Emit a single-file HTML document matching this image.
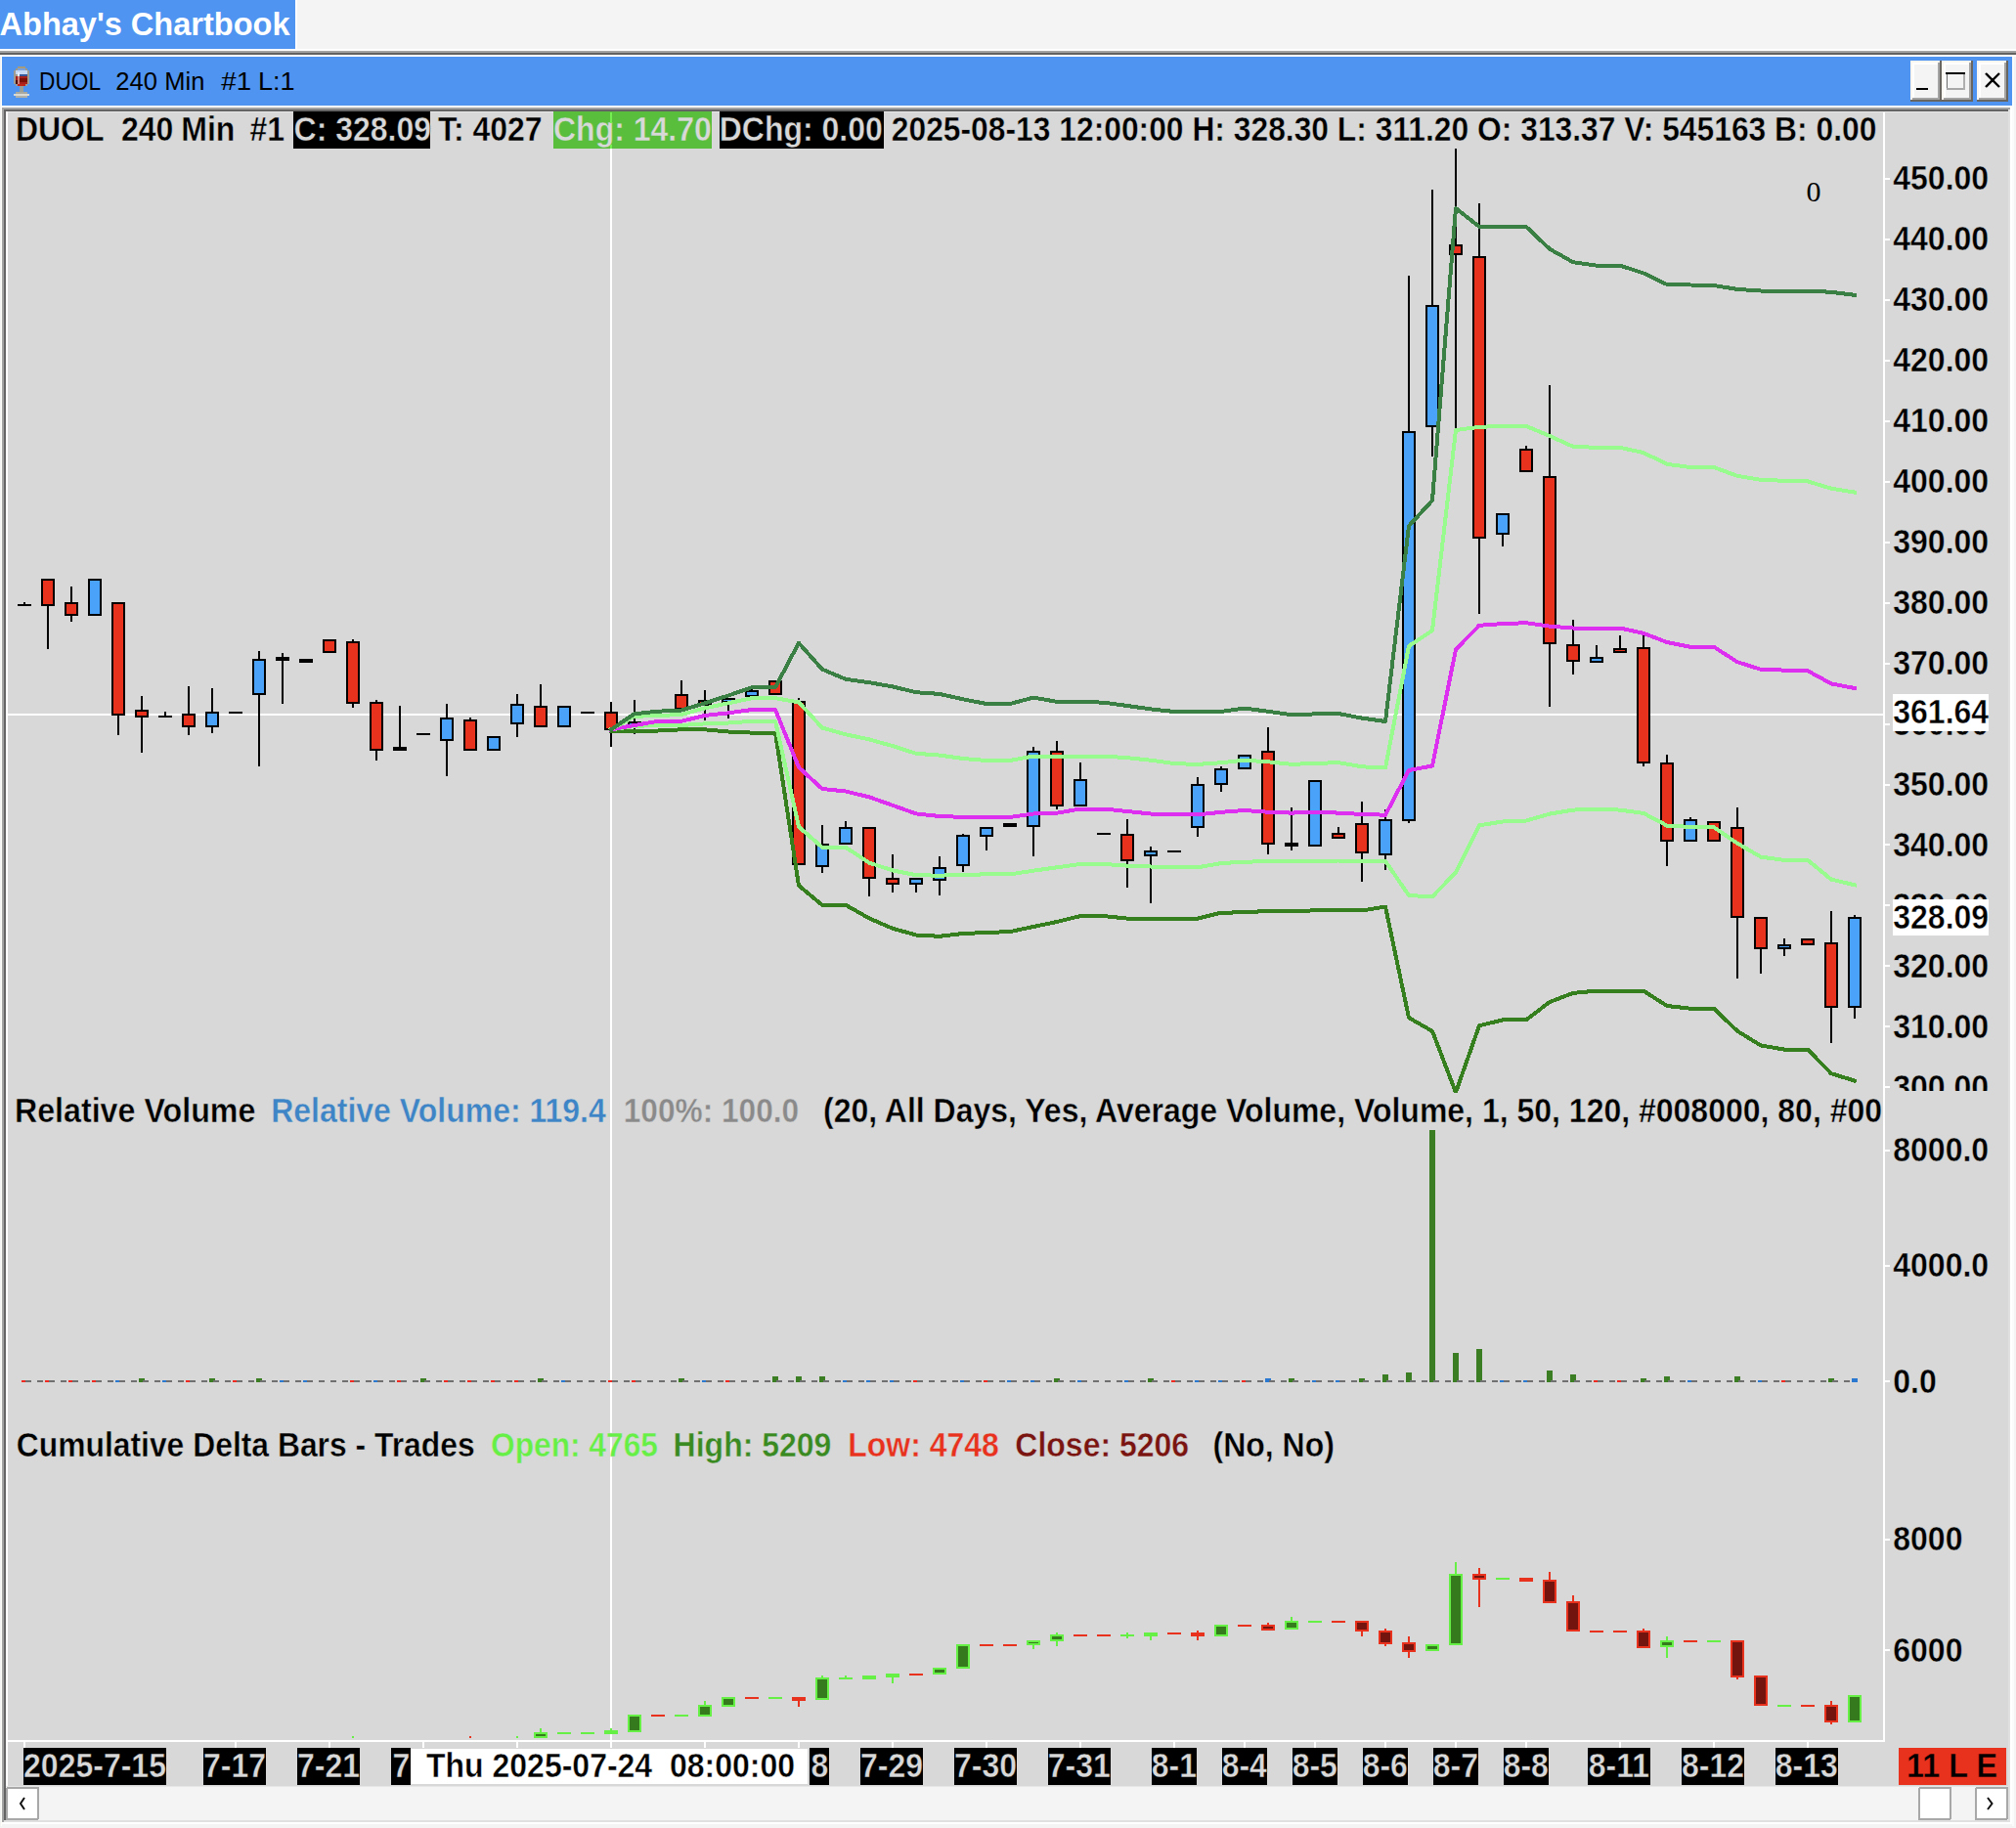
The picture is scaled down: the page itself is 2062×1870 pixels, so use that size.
<!DOCTYPE html><html><head><meta charset="utf-8"><style>html,body{margin:0;padding:0;background:#f4f4f4;overflow:hidden}body{width:2062px;height:1870px;position:relative}</style></head><body><svg width="2062" height="1870" viewBox="0 0 2062 1870" font-family="'Liberation Sans', sans-serif" style="position:absolute;left:0;top:0" shape-rendering="crispEdges">
<defs><clipPath id="cpMain"><rect x="8" y="115" width="1918" height="1003"/></clipPath><clipPath id="cpVol"><rect x="8" y="1116" width="1918" height="334"/></clipPath><clipPath id="cpCD"><rect x="8" y="1450" width="1918" height="330"/></clipPath><clipPath id="cpHdr"><rect x="8" y="114" width="1917" height="1666"/></clipPath><clipPath id="cpAxis"><rect x="1928" y="115" width="126" height="1001"/></clipPath></defs>
<rect x="0" y="0" width="2062" height="1870" fill="#f4f4f4"/>
<rect x="0" y="0" width="302" height="50" fill="#4e94f0"/>
<rect x="302" y="0" width="2" height="50" fill="#ffffff"/>
<text x="-0.5" y="35.6" font-size="32" font-weight="bold" fill="#fff" textLength="297" lengthAdjust="spacingAndGlyphs" transform="translate(0 35.6) scale(1 1.054) translate(0 -35.6)">Abhay&#39;s Chartbook</text>
<rect x="0" y="50" width="2062" height="2" fill="#ffffff"/>
<rect x="0" y="52" width="2062" height="2" fill="#a3a3a3"/>
<rect x="0" y="54" width="2062" height="2" fill="#616161"/>
<rect x="0" y="56" width="2062" height="2" fill="#ffffff"/>
<rect x="1" y="58" width="1" height="1810" fill="#fffdf8"/>
<rect x="2058" y="58" width="2" height="1810" fill="#fbfbfb"/>
<rect x="2" y="58" width="2056" height="50" fill="#4e94f0"/>
<rect x="2" y="108" width="2056" height="2" fill="#fffdf8"/>
<text x="40.1" y="92" font-size="25" font-weight="normal" fill="#000" textLength="63.0" lengthAdjust="spacingAndGlyphs" transform="translate(0 92) scale(1 1.058) translate(0 -92)">DUOL</text>
<text x="118.3" y="92" font-size="25" font-weight="normal" fill="#000" textLength="42.7" lengthAdjust="spacingAndGlyphs" transform="translate(0 92) scale(1 1.058) translate(0 -92)">240</text>
<text x="168.3" y="92" font-size="25" font-weight="normal" fill="#000" textLength="41.1" lengthAdjust="spacingAndGlyphs" transform="translate(0 92) scale(1 1.058) translate(0 -92)">Min</text>
<text x="226.3" y="92" font-size="25" font-weight="normal" fill="#000" textLength="30.8" lengthAdjust="spacingAndGlyphs" transform="translate(0 92) scale(1 1.058) translate(0 -92)">#1</text>
<text x="263.9" y="92" font-size="25" font-weight="normal" fill="#000" textLength="37.6" lengthAdjust="spacingAndGlyphs" transform="translate(0 92) scale(1 1.058) translate(0 -92)">L:1</text>
<g><rect x="18" y="68" width="8" height="2" fill="#a49a80"/><rect x="16" y="70" width="12" height="2" fill="#a49a80"/><rect x="14" y="72" width="16" height="14" fill="#a09c90"/><rect x="16" y="86" width="12" height="2" fill="#a09c90"/><rect x="18" y="70" width="8" height="2" fill="#7aa2e0"/><rect x="16" y="72" width="12" height="4" fill="#c4d8f4"/><rect x="20" y="76" width="8" height="2" fill="#34589a"/><rect x="18" y="74" width="2" height="4" fill="#e4eefc"/><rect x="16" y="78" width="12" height="8" fill="#a8201a"/><rect x="20" y="80" width="8" height="4" fill="#7a1008"/><rect x="16" y="82" width="2" height="4" fill="#4a0a08"/><rect x="18" y="78" width="2" height="8" fill="#d08078"/><rect x="18" y="86" width="8" height="2" fill="#c02418"/><rect x="20" y="88" width="4" height="6" fill="#9a9e98"/><rect x="16" y="94" width="12" height="2" fill="#a8a8a0"/><rect x="14" y="96" width="16" height="2" fill="#d8d8d4"/><rect x="16" y="98" width="12" height="2" fill="#b0b0a8"/></g>
<rect x="1954" y="62" width="32" height="42" fill="#686460"/>
<rect x="1954" y="62" width="30" height="40" fill="#fbf6f0"/>
<rect x="1956" y="64" width="28" height="38" fill="#a4a4a4"/>
<rect x="1956" y="64" width="26" height="36" fill="#ffffff"/>
<rect x="1958" y="66" width="24" height="34" fill="#f4f4f4"/>
<rect x="1986" y="62" width="32" height="42" fill="#686460"/>
<rect x="1986" y="62" width="30" height="40" fill="#fbf6f0"/>
<rect x="1988" y="64" width="28" height="38" fill="#a4a4a4"/>
<rect x="1988" y="64" width="26" height="36" fill="#ffffff"/>
<rect x="1990" y="66" width="24" height="34" fill="#f4f4f4"/>
<rect x="2022" y="62" width="32" height="42" fill="#686460"/>
<rect x="2022" y="62" width="30" height="40" fill="#fbf6f0"/>
<rect x="2024" y="64" width="28" height="38" fill="#a4a4a4"/>
<rect x="2024" y="64" width="26" height="36" fill="#ffffff"/>
<rect x="2026" y="66" width="24" height="34" fill="#f4f4f4"/>
<rect x="1960" y="90" width="12" height="2" fill="#000"/>
<rect x="1990" y="74" width="20" height="2" fill="#000"/>
<rect x="1991" y="76" width="1" height="16" fill="#707070"/>
<rect x="1991" y="90" width="19" height="2" fill="#a8a8a8"/>
<rect x="2008" y="76" width="2" height="16" fill="#b0b0b0"/>
<path d="M2031 75 L2045 89 M2045 75 L2031 89" stroke="#000" stroke-width="2.4" shape-rendering="auto"/>
<rect x="2036" y="80" width="4" height="4" fill="#000"/>
<rect x="2" y="110" width="2054" height="2" fill="#a3a3a3"/>
<rect x="2" y="110" width="2" height="1754" fill="#a3a3a3"/>
<rect x="2056" y="110" width="2" height="1756" fill="#ffffff"/>
<rect x="2" y="1864" width="2056" height="2" fill="#ffffff"/>
<rect x="4" y="112" width="2050" height="2" fill="#646464"/>
<rect x="4" y="112" width="2" height="1750" fill="#646464"/>
<rect x="2054" y="112" width="2" height="1752" fill="#e0e0e0"/>
<rect x="4" y="1862" width="2052" height="2" fill="#e0e0e0"/>
<rect x="6" y="114" width="2048" height="1748" fill="#d8d8d8"/>
<rect x="6" y="114" width="2" height="1714" fill="#ffffff"/>
<rect x="8" y="114" width="2046" height="1" fill="#e6e6e6"/>
<rect x="6" y="1827" width="2048" height="1" fill="#e6e6e6"/>
<rect x="6" y="1828" width="2048" height="34" fill="#f4f4f4"/>
<rect x="6" y="1828" width="34" height="34" fill="#a8a8a8" rx="2"/>
<rect x="8" y="1830" width="30" height="30" fill="#ffffff"/>
<rect x="1962" y="1828" width="34" height="34" fill="#a8a8a8" rx="2"/>
<rect x="1964" y="1830" width="30" height="30" fill="#ffffff"/>
<rect x="2020" y="1828" width="34" height="34" fill="#a8a8a8" rx="2"/>
<rect x="2022" y="1830" width="30" height="30" fill="#ffffff"/>
<path d="M25 1839 L21 1845 L25 1851" fill="none" stroke="#111" stroke-width="2" shape-rendering="auto"/>
<path d="M2033 1839 L2037.5 1845 L2033 1851" fill="none" stroke="#111" stroke-width="2" shape-rendering="auto"/>
<rect x="8" y="730" width="1918" height="2" fill="#ffffff"/>
<rect x="624" y="114" width="2" height="1666" fill="#ffffff"/>
<g clip-path="url(#cpMain)">
<rect x="24" y="616" width="2" height="3" fill="#000"/>
<rect x="18" y="618" width="14" height="2" fill="#000"/>
<rect x="48" y="592" width="2" height="72" fill="#000"/>
<rect x="42" y="592" width="14" height="28" fill="#000"/>
<rect x="44" y="594" width="10" height="24" fill="#e8321e"/>
<rect x="72" y="600" width="2" height="36" fill="#000"/>
<rect x="66" y="616" width="14" height="14" fill="#000"/>
<rect x="68" y="618" width="10" height="10" fill="#e8321e"/>
<rect x="96" y="592" width="2" height="38" fill="#000"/>
<rect x="90" y="592" width="14" height="38" fill="#000"/>
<rect x="92" y="594" width="10" height="34" fill="#4aa3f8"/>
<rect x="120" y="616" width="2" height="136" fill="#000"/>
<rect x="114" y="616" width="14" height="116" fill="#000"/>
<rect x="116" y="618" width="10" height="112" fill="#e8321e"/>
<rect x="144" y="712" width="2" height="58" fill="#000"/>
<rect x="138" y="726" width="14" height="8" fill="#000"/>
<rect x="140" y="728" width="10" height="4" fill="#e8321e"/>
<rect x="168" y="728" width="2" height="5" fill="#000"/>
<rect x="162" y="732" width="14" height="2" fill="#000"/>
<rect x="192" y="702" width="2" height="50" fill="#000"/>
<rect x="186" y="730" width="14" height="14" fill="#000"/>
<rect x="188" y="732" width="10" height="10" fill="#e8321e"/>
<rect x="216" y="704" width="2" height="46" fill="#000"/>
<rect x="210" y="728" width="14" height="16" fill="#000"/>
<rect x="212" y="730" width="10" height="12" fill="#4aa3f8"/>
<rect x="234" y="728" width="14" height="2" fill="#000"/>
<rect x="264" y="666" width="2" height="118" fill="#000"/>
<rect x="258" y="674" width="14" height="37" fill="#000"/>
<rect x="260" y="676" width="10" height="33" fill="#4aa3f8"/>
<rect x="288" y="668" width="2" height="52" fill="#000"/>
<rect x="282" y="672" width="14" height="4" fill="#000"/>
<rect x="312" y="674" width="2" height="4" fill="#000"/>
<rect x="306" y="674" width="14" height="4" fill="#000"/>
<rect x="336" y="654" width="2" height="14" fill="#000"/>
<rect x="330" y="654" width="14" height="14" fill="#000"/>
<rect x="332" y="656" width="10" height="10" fill="#e8321e"/>
<rect x="360" y="654" width="2" height="70" fill="#000"/>
<rect x="354" y="656" width="14" height="64" fill="#000"/>
<rect x="356" y="658" width="10" height="60" fill="#e8321e"/>
<rect x="384" y="716" width="2" height="62" fill="#000"/>
<rect x="378" y="718" width="14" height="50" fill="#000"/>
<rect x="380" y="720" width="10" height="46" fill="#e8321e"/>
<rect x="408" y="722" width="2" height="46" fill="#000"/>
<rect x="402" y="764" width="14" height="4" fill="#000"/>
<rect x="426" y="750" width="14" height="2" fill="#000"/>
<rect x="456" y="720" width="2" height="74" fill="#000"/>
<rect x="450" y="734" width="14" height="24" fill="#000"/>
<rect x="452" y="736" width="10" height="20" fill="#4aa3f8"/>
<rect x="480" y="734" width="2" height="34" fill="#000"/>
<rect x="474" y="736" width="14" height="32" fill="#000"/>
<rect x="476" y="738" width="10" height="28" fill="#e8321e"/>
<rect x="504" y="753" width="2" height="15" fill="#000"/>
<rect x="498" y="753" width="14" height="15" fill="#000"/>
<rect x="500" y="755" width="10" height="11" fill="#4aa3f8"/>
<rect x="528" y="710" width="2" height="44" fill="#000"/>
<rect x="522" y="720" width="14" height="21" fill="#000"/>
<rect x="524" y="722" width="10" height="17" fill="#4aa3f8"/>
<rect x="552" y="700" width="2" height="44" fill="#000"/>
<rect x="546" y="722" width="14" height="22" fill="#000"/>
<rect x="548" y="724" width="10" height="18" fill="#e8321e"/>
<rect x="576" y="722" width="2" height="22" fill="#000"/>
<rect x="570" y="722" width="14" height="22" fill="#000"/>
<rect x="572" y="724" width="10" height="18" fill="#4aa3f8"/>
<rect x="594" y="728" width="14" height="2" fill="#000"/>
<rect x="624" y="718" width="2" height="46" fill="#000"/>
<rect x="618" y="728" width="14" height="19" fill="#000"/>
<rect x="620" y="730" width="10" height="15" fill="#e8321e"/>
<rect x="648" y="716" width="2" height="35" fill="#000"/>
<rect x="642" y="738" width="14" height="6" fill="#000"/>
<rect x="644" y="740" width="10" height="2" fill="#4aa3f8"/>
<rect x="672" y="738" width="2" height="4" fill="#000"/>
<rect x="666" y="739" width="14" height="2" fill="#000"/>
<rect x="696" y="696" width="2" height="30" fill="#000"/>
<rect x="690" y="710" width="14" height="16" fill="#000"/>
<rect x="692" y="712" width="10" height="12" fill="#e8321e"/>
<rect x="720" y="706" width="2" height="31" fill="#000"/>
<rect x="714" y="716" width="14" height="6" fill="#000"/>
<rect x="716" y="718" width="10" height="2" fill="#e8321e"/>
<rect x="744" y="714" width="2" height="21" fill="#000"/>
<rect x="738" y="714" width="14" height="5" fill="#000"/>
<rect x="740" y="716" width="10" height="1" fill="#4aa3f8"/>
<rect x="768" y="704" width="2" height="9" fill="#000"/>
<rect x="762" y="706" width="14" height="7" fill="#000"/>
<rect x="764" y="708" width="10" height="3" fill="#4aa3f8"/>
<rect x="792" y="696" width="2" height="15" fill="#000"/>
<rect x="786" y="696" width="14" height="15" fill="#000"/>
<rect x="788" y="698" width="10" height="11" fill="#e8321e"/>
<rect x="816" y="714" width="2" height="171" fill="#000"/>
<rect x="810" y="717" width="14" height="168" fill="#000"/>
<rect x="812" y="719" width="10" height="164" fill="#e8321e"/>
<rect x="840" y="844" width="2" height="49" fill="#000"/>
<rect x="834" y="863" width="14" height="24" fill="#000"/>
<rect x="836" y="865" width="10" height="20" fill="#4aa3f8"/>
<rect x="864" y="840" width="2" height="24" fill="#000"/>
<rect x="858" y="846" width="14" height="18" fill="#000"/>
<rect x="860" y="848" width="10" height="14" fill="#4aa3f8"/>
<rect x="888" y="846" width="2" height="71" fill="#000"/>
<rect x="882" y="846" width="14" height="53" fill="#000"/>
<rect x="884" y="848" width="10" height="49" fill="#e8321e"/>
<rect x="912" y="874" width="2" height="39" fill="#000"/>
<rect x="906" y="898" width="14" height="7" fill="#000"/>
<rect x="908" y="900" width="10" height="3" fill="#e8321e"/>
<rect x="936" y="898" width="2" height="15" fill="#000"/>
<rect x="930" y="898" width="14" height="7" fill="#000"/>
<rect x="932" y="900" width="10" height="3" fill="#4aa3f8"/>
<rect x="960" y="876" width="2" height="40" fill="#000"/>
<rect x="954" y="887" width="14" height="14" fill="#000"/>
<rect x="956" y="889" width="10" height="10" fill="#4aa3f8"/>
<rect x="984" y="853" width="2" height="39" fill="#000"/>
<rect x="978" y="854" width="14" height="32" fill="#000"/>
<rect x="980" y="856" width="10" height="28" fill="#4aa3f8"/>
<rect x="1008" y="846" width="2" height="24" fill="#000"/>
<rect x="1002" y="846" width="14" height="10" fill="#000"/>
<rect x="1004" y="848" width="10" height="6" fill="#4aa3f8"/>
<rect x="1032" y="842" width="2" height="4" fill="#000"/>
<rect x="1026" y="842" width="14" height="4" fill="#000"/>
<rect x="1056" y="764" width="2" height="112" fill="#000"/>
<rect x="1050" y="768" width="14" height="78" fill="#000"/>
<rect x="1052" y="770" width="10" height="74" fill="#4aa3f8"/>
<rect x="1080" y="758" width="2" height="70" fill="#000"/>
<rect x="1074" y="768" width="14" height="57" fill="#000"/>
<rect x="1076" y="770" width="10" height="53" fill="#e8321e"/>
<rect x="1104" y="780" width="2" height="45" fill="#000"/>
<rect x="1098" y="797" width="14" height="28" fill="#000"/>
<rect x="1100" y="799" width="10" height="24" fill="#4aa3f8"/>
<rect x="1122" y="852" width="14" height="2" fill="#000"/>
<rect x="1152" y="838" width="2" height="70" fill="#000"/>
<rect x="1146" y="853" width="14" height="28" fill="#000"/>
<rect x="1148" y="855" width="10" height="24" fill="#e8321e"/>
<rect x="1176" y="866" width="2" height="58" fill="#000"/>
<rect x="1170" y="870" width="14" height="6" fill="#000"/>
<rect x="1172" y="872" width="10" height="2" fill="#4aa3f8"/>
<rect x="1194" y="870" width="14" height="2" fill="#000"/>
<rect x="1224" y="795" width="2" height="61" fill="#000"/>
<rect x="1218" y="802" width="14" height="45" fill="#000"/>
<rect x="1220" y="804" width="10" height="41" fill="#4aa3f8"/>
<rect x="1248" y="784" width="2" height="26" fill="#000"/>
<rect x="1242" y="786" width="14" height="17" fill="#000"/>
<rect x="1244" y="788" width="10" height="13" fill="#4aa3f8"/>
<rect x="1272" y="772" width="2" height="15" fill="#000"/>
<rect x="1266" y="772" width="14" height="15" fill="#000"/>
<rect x="1268" y="774" width="10" height="11" fill="#4aa3f8"/>
<rect x="1296" y="744" width="2" height="130" fill="#000"/>
<rect x="1290" y="768" width="14" height="96" fill="#000"/>
<rect x="1292" y="770" width="10" height="92" fill="#e8321e"/>
<rect x="1320" y="826" width="2" height="44" fill="#000"/>
<rect x="1314" y="862" width="14" height="4" fill="#000"/>
<rect x="1344" y="798" width="2" height="68" fill="#000"/>
<rect x="1338" y="798" width="14" height="68" fill="#000"/>
<rect x="1340" y="800" width="10" height="64" fill="#4aa3f8"/>
<rect x="1368" y="846" width="2" height="12" fill="#000"/>
<rect x="1362" y="852" width="14" height="6" fill="#000"/>
<rect x="1364" y="854" width="10" height="2" fill="#e8321e"/>
<rect x="1392" y="820" width="2" height="82" fill="#000"/>
<rect x="1386" y="842" width="14" height="31" fill="#000"/>
<rect x="1388" y="844" width="10" height="27" fill="#e8321e"/>
<rect x="1416" y="828" width="2" height="62" fill="#000"/>
<rect x="1410" y="838" width="14" height="37" fill="#000"/>
<rect x="1412" y="840" width="10" height="33" fill="#4aa3f8"/>
<rect x="1440" y="282" width="2" height="560" fill="#000"/>
<rect x="1434" y="441" width="14" height="399" fill="#000"/>
<rect x="1436" y="443" width="10" height="395" fill="#4aa3f8"/>
<rect x="1464" y="194" width="2" height="273" fill="#000"/>
<rect x="1458" y="312" width="14" height="125" fill="#000"/>
<rect x="1460" y="314" width="10" height="121" fill="#4aa3f8"/>
<rect x="1488" y="152" width="2" height="286" fill="#000"/>
<rect x="1482" y="250" width="14" height="11" fill="#000"/>
<rect x="1484" y="252" width="10" height="7" fill="#e8321e"/>
<rect x="1512" y="208" width="2" height="420" fill="#000"/>
<rect x="1506" y="262" width="14" height="289" fill="#000"/>
<rect x="1508" y="264" width="10" height="285" fill="#e8321e"/>
<rect x="1536" y="525" width="2" height="34" fill="#000"/>
<rect x="1530" y="525" width="14" height="22" fill="#000"/>
<rect x="1532" y="527" width="10" height="18" fill="#4aa3f8"/>
<rect x="1560" y="456" width="2" height="27" fill="#000"/>
<rect x="1554" y="459" width="14" height="24" fill="#000"/>
<rect x="1556" y="461" width="10" height="20" fill="#e8321e"/>
<rect x="1584" y="394" width="2" height="329" fill="#000"/>
<rect x="1578" y="487" width="14" height="172" fill="#000"/>
<rect x="1580" y="489" width="10" height="168" fill="#e8321e"/>
<rect x="1608" y="634" width="2" height="56" fill="#000"/>
<rect x="1602" y="659" width="14" height="18" fill="#000"/>
<rect x="1604" y="661" width="10" height="14" fill="#e8321e"/>
<rect x="1632" y="660" width="2" height="18" fill="#000"/>
<rect x="1626" y="672" width="14" height="6" fill="#000"/>
<rect x="1628" y="674" width="10" height="2" fill="#4aa3f8"/>
<rect x="1656" y="650" width="2" height="18" fill="#000"/>
<rect x="1650" y="663" width="14" height="5" fill="#000"/>
<rect x="1652" y="665" width="10" height="1" fill="#e8321e"/>
<rect x="1680" y="650" width="2" height="134" fill="#000"/>
<rect x="1674" y="662" width="14" height="119" fill="#000"/>
<rect x="1676" y="664" width="10" height="115" fill="#e8321e"/>
<rect x="1704" y="772" width="2" height="114" fill="#000"/>
<rect x="1698" y="780" width="14" height="81" fill="#000"/>
<rect x="1700" y="782" width="10" height="77" fill="#e8321e"/>
<rect x="1728" y="836" width="2" height="25" fill="#000"/>
<rect x="1722" y="838" width="14" height="23" fill="#000"/>
<rect x="1724" y="840" width="10" height="19" fill="#4aa3f8"/>
<rect x="1752" y="840" width="2" height="21" fill="#000"/>
<rect x="1746" y="840" width="14" height="21" fill="#000"/>
<rect x="1748" y="842" width="10" height="17" fill="#e8321e"/>
<rect x="1776" y="826" width="2" height="175" fill="#000"/>
<rect x="1770" y="846" width="14" height="93" fill="#000"/>
<rect x="1772" y="848" width="10" height="89" fill="#e8321e"/>
<rect x="1800" y="938" width="2" height="58" fill="#000"/>
<rect x="1794" y="938" width="14" height="33" fill="#000"/>
<rect x="1796" y="940" width="10" height="29" fill="#e8321e"/>
<rect x="1824" y="960" width="2" height="18" fill="#000"/>
<rect x="1818" y="966" width="14" height="5" fill="#000"/>
<rect x="1820" y="968" width="10" height="1" fill="#4aa3f8"/>
<rect x="1848" y="960" width="2" height="7" fill="#000"/>
<rect x="1842" y="960" width="14" height="7" fill="#000"/>
<rect x="1844" y="962" width="10" height="3" fill="#e8321e"/>
<rect x="1872" y="932" width="2" height="135" fill="#000"/>
<rect x="1866" y="964" width="14" height="67" fill="#000"/>
<rect x="1868" y="966" width="10" height="63" fill="#e8321e"/>
<rect x="1896" y="936" width="2" height="106" fill="#000"/>
<rect x="1890" y="938" width="14" height="93" fill="#000"/>
<rect x="1892" y="940" width="10" height="89" fill="#4aa3f8"/>
<polyline points="625,747.5 649,747.5 673,747.5 697,746.3 721,746.3 745,748.5 769,749.6 793,749.6 817,906 841,925.8 865,925.8 889,939.4 913,949.8 937,956.5 961,957.8 985,955 1009,954 1033,953.1 1057,948 1081,943 1105,937.1 1129,937.1 1153,939.6 1177,939.6 1201,939.6 1225,939.6 1249,933.7 1273,933.3 1297,931.9 1321,931.9 1345,931.4 1369,931.1 1393,931.5 1417,927.5 1441,1041.2 1465,1054.9 1489,1117.5 1513,1049.2 1537,1043.4 1561,1043.4 1585,1025 1609,1015.9 1633,1013.6 1657,1013.6 1681,1013.6 1705,1029 1729,1031.7 1753,1031.7 1777,1054.7 1801,1069.5 1825,1073.6 1849,1073.6 1873,1098.2 1897,1105.6" fill="none" stroke="#357f1f" stroke-width="4" stroke-linejoin="round" stroke-linecap="square" shape-rendering="crispEdges"/>
<polyline points="625,746.3 649,742.9 673,742 697,742 721,740.4 745,739.5 769,737.8 793,737.8 817,845.8 841,866.8 865,866.8 889,882.6 913,890.4 937,895.2 961,895.7 985,894.8 1009,894.4 1033,894.4 1057,890.7 1081,887.3 1105,884 1129,884 1153,885.6 1177,886.5 1201,887.3 1225,887.3 1249,883.1 1273,881.6 1297,881.3 1321,881.3 1345,880.8 1369,880.5 1393,881.4 1417,881 1441,916 1465,917.3 1489,892.5 1513,844.3 1537,840.5 1561,839.5 1585,832.6 1609,828.6 1633,827.5 1657,828.6 1681,831.9 1705,844.6 1729,845.9 1753,846.3 1777,862.7 1801,876.6 1825,879.9 1849,879.9 1873,899.6 1897,905.3" fill="none" stroke="#98fb8e" stroke-width="4" stroke-linejoin="round" stroke-linecap="square" shape-rendering="crispEdges"/>
<polyline points="625,746.3 649,742 673,737.8 697,737.8 721,731.9 745,729.4 769,726 793,726 817,785 841,807 865,809.5 889,815.4 913,823.8 937,832.4 961,835 985,835.9 1009,835.9 1033,835.9 1057,832.5 1081,831.7 1105,827.5 1129,827.5 1153,830 1177,832.5 1201,833.4 1225,833.4 1249,830.8 1273,829 1297,830.7 1321,831.6 1345,830.7 1369,831.6 1393,833 1417,833.7 1441,788 1465,783.5 1489,664.4 1513,639.8 1537,638.1 1561,637.2 1585,640.7 1609,642.5 1633,642.5 1657,642.5 1681,647.8 1705,657 1729,661.8 1753,661.8 1777,677.2 1801,684.8 1825,685.6 1849,686.3 1873,699.4 1897,704" fill="none" stroke="#dd2ff0" stroke-width="4" stroke-linejoin="round" stroke-linecap="square" shape-rendering="crispEdges"/>
<polyline points="625,746.3 649,732.8 673,732 697,731 721,724.3 745,719.3 769,714.2 793,714.2 817,718.4 841,744.6 865,751.3 889,756.4 913,763.1 937,770.8 961,772.6 985,776 1009,778 1033,778 1057,773.5 1081,773.5 1105,773.5 1129,773.5 1153,775.2 1177,777.7 1201,781.1 1225,781.9 1249,780.2 1273,777.7 1297,779.3 1321,781.8 1345,781 1369,780.1 1393,784.3 1417,785.5 1441,660.9 1465,645 1489,440 1513,436.8 1537,435.9 1561,435.9 1585,445.9 1609,456.9 1633,457.8 1657,457.8 1681,463.1 1705,474.8 1729,478 1753,478 1777,486.9 1801,490.8 1825,491.8 1849,492.4 1873,499.7 1897,503.6" fill="none" stroke="#98fb8e" stroke-width="4" stroke-linejoin="round" stroke-linecap="square" shape-rendering="crispEdges"/>
<polyline points="625,746.3 649,730.2 673,727.7 697,726.5 721,719.3 745,711.5 769,703.2 793,703.2 817,657.7 841,684.7 865,694.8 889,698.2 913,702.4 937,708.2 961,709.9 985,715.3 1009,720 1033,720 1057,713.6 1081,717.8 1105,717.8 1129,718.7 1153,722 1177,725.4 1201,728 1225,728 1249,728 1273,724.5 1297,727.8 1321,731.2 1345,730.4 1369,730 1393,734.6 1417,738 1441,538 1465,512 1489,213 1513,231.9 1537,231.9 1561,231.9 1585,254.7 1609,268.2 1633,271.6 1657,271.6 1681,279.5 1705,291 1729,291.5 1753,292 1777,295.9 1801,297.5 1825,297.5 1849,297.5 1873,298.8 1897,301.8" fill="none" stroke="#3a7f44" stroke-width="4" stroke-linejoin="round" stroke-linecap="square" shape-rendering="crispEdges"/>
</g>
<g clip-path="url(#cpVol)">
<rect x="22" y="1412" width="6" height="2" fill="#f02a20"/>
<rect x="46" y="1412" width="6" height="2" fill="#f02a20"/>
<rect x="70" y="1412" width="6" height="2" fill="#f02a20"/>
<rect x="94" y="1412" width="6" height="2" fill="#f02a20"/>
<rect x="118" y="1412" width="6" height="2" fill="#2a78d0"/>
<rect x="142" y="1410" width="6" height="4" fill="#3a7d22"/>
<rect x="166" y="1412" width="6" height="2" fill="#2a78d0"/>
<rect x="190" y="1412" width="6" height="2" fill="#f02a20"/>
<rect x="214" y="1410" width="6" height="4" fill="#3a7d22"/>
<rect x="238" y="1412" width="6" height="2" fill="#f02a20"/>
<rect x="262" y="1410" width="6" height="4" fill="#3a7d22"/>
<rect x="286" y="1412" width="6" height="2" fill="#2a78d0"/>
<rect x="310" y="1412" width="6" height="2" fill="#2a78d0"/>
<rect x="358" y="1412" width="6" height="2" fill="#f02a20"/>
<rect x="382" y="1412" width="6" height="2" fill="#2a78d0"/>
<rect x="406" y="1412" width="6" height="2" fill="#f02a20"/>
<rect x="430" y="1410" width="6" height="4" fill="#3a7d22"/>
<rect x="454" y="1412" width="6" height="2" fill="#f02a20"/>
<rect x="478" y="1412" width="6" height="2" fill="#f02a20"/>
<rect x="502" y="1412" width="6" height="2" fill="#f02a20"/>
<rect x="526" y="1412" width="6" height="2" fill="#f02a20"/>
<rect x="550" y="1410" width="6" height="4" fill="#3a7d22"/>
<rect x="574" y="1412" width="6" height="2" fill="#2a78d0"/>
<rect x="622" y="1412" width="6" height="2" fill="#f02a20"/>
<rect x="646" y="1412" width="6" height="2" fill="#f02a20"/>
<rect x="694" y="1410" width="6" height="4" fill="#3a7d22"/>
<rect x="718" y="1412" width="6" height="2" fill="#2a78d0"/>
<rect x="742" y="1412" width="6" height="2" fill="#f02a20"/>
<rect x="790" y="1408" width="6" height="6" fill="#3a7d22"/>
<rect x="814" y="1408" width="6" height="6" fill="#3a7d22"/>
<rect x="838" y="1408" width="6" height="6" fill="#3a7d22"/>
<rect x="862" y="1412" width="6" height="2" fill="#2a78d0"/>
<rect x="886" y="1412" width="6" height="2" fill="#2a78d0"/>
<rect x="910" y="1412" width="6" height="2" fill="#2a78d0"/>
<rect x="934" y="1412" width="6" height="2" fill="#f02a20"/>
<rect x="982" y="1412" width="6" height="2" fill="#2a78d0"/>
<rect x="1006" y="1412" width="6" height="2" fill="#f02a20"/>
<rect x="1030" y="1412" width="6" height="2" fill="#2a78d0"/>
<rect x="1054" y="1412" width="6" height="2" fill="#2a78d0"/>
<rect x="1078" y="1410" width="6" height="4" fill="#3a7d22"/>
<rect x="1102" y="1412" width="6" height="2" fill="#2a78d0"/>
<rect x="1150" y="1412" width="6" height="2" fill="#2a78d0"/>
<rect x="1174" y="1410" width="6" height="4" fill="#3a7d22"/>
<rect x="1198" y="1412" width="6" height="2" fill="#f02a20"/>
<rect x="1222" y="1412" width="6" height="2" fill="#2a78d0"/>
<rect x="1246" y="1412" width="6" height="2" fill="#2a78d0"/>
<rect x="1270" y="1412" width="6" height="2" fill="#f02a20"/>
<rect x="1294" y="1410" width="6" height="4" fill="#2a78d0"/>
<rect x="1318" y="1410" width="6" height="4" fill="#3a7d22"/>
<rect x="1342" y="1412" width="6" height="2" fill="#2a78d0"/>
<rect x="1366" y="1412" width="6" height="2" fill="#2a78d0"/>
<rect x="1390" y="1410" width="6" height="4" fill="#3a7d22"/>
<rect x="1414" y="1406" width="6" height="8" fill="#3a7d22"/>
<rect x="1438" y="1404" width="6" height="10" fill="#3a7d22"/>
<rect x="1462" y="1156" width="6" height="258" fill="#3a7d22"/>
<rect x="1486" y="1384" width="6" height="30" fill="#3a7d22"/>
<rect x="1510" y="1380" width="6" height="34" fill="#3a7d22"/>
<rect x="1534" y="1412" width="6" height="2" fill="#2a78d0"/>
<rect x="1558" y="1412" width="6" height="2" fill="#2a78d0"/>
<rect x="1582" y="1402" width="6" height="12" fill="#3a7d22"/>
<rect x="1606" y="1406" width="6" height="8" fill="#3a7d22"/>
<rect x="1630" y="1412" width="6" height="2" fill="#f02a20"/>
<rect x="1654" y="1412" width="6" height="2" fill="#f02a20"/>
<rect x="1678" y="1410" width="6" height="4" fill="#3a7d22"/>
<rect x="1702" y="1408" width="6" height="6" fill="#3a7d22"/>
<rect x="1726" y="1412" width="6" height="2" fill="#2a78d0"/>
<rect x="1774" y="1408" width="6" height="6" fill="#3a7d22"/>
<rect x="1798" y="1412" width="6" height="2" fill="#2a78d0"/>
<rect x="1822" y="1412" width="6" height="2" fill="#f02a20"/>
<rect x="1870" y="1410" width="6" height="4" fill="#3a7d22"/>
<rect x="1894" y="1410" width="6" height="4" fill="#2a78d0"/>
<rect x="26" y="1412" width="6" height="2" fill="#707070"/>
<rect x="38" y="1412" width="6" height="2" fill="#707070"/>
<rect x="50" y="1412" width="6" height="2" fill="#707070"/>
<rect x="62" y="1412" width="6" height="2" fill="#707070"/>
<rect x="74" y="1412" width="6" height="2" fill="#707070"/>
<rect x="86" y="1412" width="6" height="2" fill="#707070"/>
<rect x="98" y="1412" width="6" height="2" fill="#707070"/>
<rect x="110" y="1412" width="6" height="2" fill="#707070"/>
<rect x="122" y="1412" width="6" height="2" fill="#707070"/>
<rect x="134" y="1412" width="6" height="2" fill="#707070"/>
<rect x="146" y="1412" width="6" height="2" fill="#707070"/>
<rect x="158" y="1412" width="6" height="2" fill="#707070"/>
<rect x="170" y="1412" width="6" height="2" fill="#707070"/>
<rect x="182" y="1412" width="6" height="2" fill="#707070"/>
<rect x="194" y="1412" width="6" height="2" fill="#707070"/>
<rect x="206" y="1412" width="6" height="2" fill="#707070"/>
<rect x="218" y="1412" width="6" height="2" fill="#707070"/>
<rect x="230" y="1412" width="6" height="2" fill="#707070"/>
<rect x="242" y="1412" width="6" height="2" fill="#707070"/>
<rect x="254" y="1412" width="6" height="2" fill="#707070"/>
<rect x="266" y="1412" width="6" height="2" fill="#707070"/>
<rect x="278" y="1412" width="6" height="2" fill="#707070"/>
<rect x="290" y="1412" width="6" height="2" fill="#707070"/>
<rect x="302" y="1412" width="6" height="2" fill="#707070"/>
<rect x="314" y="1412" width="6" height="2" fill="#707070"/>
<rect x="326" y="1412" width="6" height="2" fill="#707070"/>
<rect x="338" y="1412" width="6" height="2" fill="#707070"/>
<rect x="350" y="1412" width="6" height="2" fill="#707070"/>
<rect x="362" y="1412" width="6" height="2" fill="#707070"/>
<rect x="374" y="1412" width="6" height="2" fill="#707070"/>
<rect x="386" y="1412" width="6" height="2" fill="#707070"/>
<rect x="398" y="1412" width="6" height="2" fill="#707070"/>
<rect x="410" y="1412" width="6" height="2" fill="#707070"/>
<rect x="422" y="1412" width="6" height="2" fill="#707070"/>
<rect x="434" y="1412" width="6" height="2" fill="#707070"/>
<rect x="446" y="1412" width="6" height="2" fill="#707070"/>
<rect x="458" y="1412" width="6" height="2" fill="#707070"/>
<rect x="470" y="1412" width="6" height="2" fill="#707070"/>
<rect x="482" y="1412" width="6" height="2" fill="#707070"/>
<rect x="494" y="1412" width="6" height="2" fill="#707070"/>
<rect x="506" y="1412" width="6" height="2" fill="#707070"/>
<rect x="518" y="1412" width="6" height="2" fill="#707070"/>
<rect x="530" y="1412" width="6" height="2" fill="#707070"/>
<rect x="542" y="1412" width="6" height="2" fill="#707070"/>
<rect x="554" y="1412" width="6" height="2" fill="#707070"/>
<rect x="566" y="1412" width="6" height="2" fill="#707070"/>
<rect x="578" y="1412" width="6" height="2" fill="#707070"/>
<rect x="590" y="1412" width="6" height="2" fill="#707070"/>
<rect x="602" y="1412" width="6" height="2" fill="#707070"/>
<rect x="614" y="1412" width="6" height="2" fill="#707070"/>
<rect x="626" y="1412" width="6" height="2" fill="#707070"/>
<rect x="638" y="1412" width="6" height="2" fill="#707070"/>
<rect x="650" y="1412" width="6" height="2" fill="#707070"/>
<rect x="662" y="1412" width="6" height="2" fill="#707070"/>
<rect x="674" y="1412" width="6" height="2" fill="#707070"/>
<rect x="686" y="1412" width="6" height="2" fill="#707070"/>
<rect x="698" y="1412" width="6" height="2" fill="#707070"/>
<rect x="710" y="1412" width="6" height="2" fill="#707070"/>
<rect x="722" y="1412" width="6" height="2" fill="#707070"/>
<rect x="734" y="1412" width="6" height="2" fill="#707070"/>
<rect x="746" y="1412" width="6" height="2" fill="#707070"/>
<rect x="758" y="1412" width="6" height="2" fill="#707070"/>
<rect x="770" y="1412" width="6" height="2" fill="#707070"/>
<rect x="782" y="1412" width="6" height="2" fill="#707070"/>
<rect x="794" y="1412" width="6" height="2" fill="#707070"/>
<rect x="806" y="1412" width="6" height="2" fill="#707070"/>
<rect x="818" y="1412" width="6" height="2" fill="#707070"/>
<rect x="830" y="1412" width="6" height="2" fill="#707070"/>
<rect x="842" y="1412" width="6" height="2" fill="#707070"/>
<rect x="854" y="1412" width="6" height="2" fill="#707070"/>
<rect x="866" y="1412" width="6" height="2" fill="#707070"/>
<rect x="878" y="1412" width="6" height="2" fill="#707070"/>
<rect x="890" y="1412" width="6" height="2" fill="#707070"/>
<rect x="902" y="1412" width="6" height="2" fill="#707070"/>
<rect x="914" y="1412" width="6" height="2" fill="#707070"/>
<rect x="926" y="1412" width="6" height="2" fill="#707070"/>
<rect x="938" y="1412" width="6" height="2" fill="#707070"/>
<rect x="950" y="1412" width="6" height="2" fill="#707070"/>
<rect x="962" y="1412" width="6" height="2" fill="#707070"/>
<rect x="974" y="1412" width="6" height="2" fill="#707070"/>
<rect x="986" y="1412" width="6" height="2" fill="#707070"/>
<rect x="998" y="1412" width="6" height="2" fill="#707070"/>
<rect x="1010" y="1412" width="6" height="2" fill="#707070"/>
<rect x="1022" y="1412" width="6" height="2" fill="#707070"/>
<rect x="1034" y="1412" width="6" height="2" fill="#707070"/>
<rect x="1046" y="1412" width="6" height="2" fill="#707070"/>
<rect x="1058" y="1412" width="6" height="2" fill="#707070"/>
<rect x="1070" y="1412" width="6" height="2" fill="#707070"/>
<rect x="1082" y="1412" width="6" height="2" fill="#707070"/>
<rect x="1094" y="1412" width="6" height="2" fill="#707070"/>
<rect x="1106" y="1412" width="6" height="2" fill="#707070"/>
<rect x="1118" y="1412" width="6" height="2" fill="#707070"/>
<rect x="1130" y="1412" width="6" height="2" fill="#707070"/>
<rect x="1142" y="1412" width="6" height="2" fill="#707070"/>
<rect x="1154" y="1412" width="6" height="2" fill="#707070"/>
<rect x="1166" y="1412" width="6" height="2" fill="#707070"/>
<rect x="1178" y="1412" width="6" height="2" fill="#707070"/>
<rect x="1190" y="1412" width="6" height="2" fill="#707070"/>
<rect x="1202" y="1412" width="6" height="2" fill="#707070"/>
<rect x="1214" y="1412" width="6" height="2" fill="#707070"/>
<rect x="1226" y="1412" width="6" height="2" fill="#707070"/>
<rect x="1238" y="1412" width="6" height="2" fill="#707070"/>
<rect x="1250" y="1412" width="6" height="2" fill="#707070"/>
<rect x="1262" y="1412" width="6" height="2" fill="#707070"/>
<rect x="1274" y="1412" width="6" height="2" fill="#707070"/>
<rect x="1286" y="1412" width="6" height="2" fill="#707070"/>
<rect x="1298" y="1412" width="6" height="2" fill="#707070"/>
<rect x="1310" y="1412" width="6" height="2" fill="#707070"/>
<rect x="1322" y="1412" width="6" height="2" fill="#707070"/>
<rect x="1334" y="1412" width="6" height="2" fill="#707070"/>
<rect x="1346" y="1412" width="6" height="2" fill="#707070"/>
<rect x="1358" y="1412" width="6" height="2" fill="#707070"/>
<rect x="1370" y="1412" width="6" height="2" fill="#707070"/>
<rect x="1382" y="1412" width="6" height="2" fill="#707070"/>
<rect x="1394" y="1412" width="6" height="2" fill="#707070"/>
<rect x="1406" y="1412" width="6" height="2" fill="#707070"/>
<rect x="1418" y="1412" width="6" height="2" fill="#707070"/>
<rect x="1430" y="1412" width="6" height="2" fill="#707070"/>
<rect x="1442" y="1412" width="6" height="2" fill="#707070"/>
<rect x="1454" y="1412" width="6" height="2" fill="#707070"/>
<rect x="1466" y="1412" width="6" height="2" fill="#707070"/>
<rect x="1478" y="1412" width="6" height="2" fill="#707070"/>
<rect x="1490" y="1412" width="6" height="2" fill="#707070"/>
<rect x="1502" y="1412" width="6" height="2" fill="#707070"/>
<rect x="1514" y="1412" width="6" height="2" fill="#707070"/>
<rect x="1526" y="1412" width="6" height="2" fill="#707070"/>
<rect x="1538" y="1412" width="6" height="2" fill="#707070"/>
<rect x="1550" y="1412" width="6" height="2" fill="#707070"/>
<rect x="1562" y="1412" width="6" height="2" fill="#707070"/>
<rect x="1574" y="1412" width="6" height="2" fill="#707070"/>
<rect x="1586" y="1412" width="6" height="2" fill="#707070"/>
<rect x="1598" y="1412" width="6" height="2" fill="#707070"/>
<rect x="1610" y="1412" width="6" height="2" fill="#707070"/>
<rect x="1622" y="1412" width="6" height="2" fill="#707070"/>
<rect x="1634" y="1412" width="6" height="2" fill="#707070"/>
<rect x="1646" y="1412" width="6" height="2" fill="#707070"/>
<rect x="1658" y="1412" width="6" height="2" fill="#707070"/>
<rect x="1670" y="1412" width="6" height="2" fill="#707070"/>
<rect x="1682" y="1412" width="6" height="2" fill="#707070"/>
<rect x="1694" y="1412" width="6" height="2" fill="#707070"/>
<rect x="1706" y="1412" width="6" height="2" fill="#707070"/>
<rect x="1718" y="1412" width="6" height="2" fill="#707070"/>
<rect x="1730" y="1412" width="6" height="2" fill="#707070"/>
<rect x="1742" y="1412" width="6" height="2" fill="#707070"/>
<rect x="1754" y="1412" width="6" height="2" fill="#707070"/>
<rect x="1766" y="1412" width="6" height="2" fill="#707070"/>
<rect x="1778" y="1412" width="6" height="2" fill="#707070"/>
<rect x="1790" y="1412" width="6" height="2" fill="#707070"/>
<rect x="1802" y="1412" width="6" height="2" fill="#707070"/>
<rect x="1814" y="1412" width="6" height="2" fill="#707070"/>
<rect x="1826" y="1412" width="6" height="2" fill="#707070"/>
<rect x="1838" y="1412" width="6" height="2" fill="#707070"/>
<rect x="1850" y="1412" width="6" height="2" fill="#707070"/>
<rect x="1862" y="1412" width="6" height="2" fill="#707070"/>
<rect x="1874" y="1412" width="6" height="2" fill="#707070"/>
<rect x="1886" y="1412" width="6" height="2" fill="#707070"/>
</g>
<g clip-path="url(#cpCD)">
<rect x="360" y="1776" width="2" height="2" fill="#66f046"/>
<rect x="480" y="1776" width="2" height="2" fill="#e8321e"/>
<rect x="528" y="1776" width="2" height="2" fill="#66f046"/>
<rect x="552" y="1768" width="2" height="4" fill="#66f046"/>
<rect x="546" y="1772" width="14" height="6" fill="#66f046"/>
<rect x="548" y="1774" width="10" height="2" fill="#367a1e"/>
<rect x="570" y="1772" width="14" height="2" fill="#66f046"/>
<rect x="594" y="1772" width="14" height="2" fill="#66f046"/>
<rect x="624" y="1768" width="2" height="2" fill="#66f046"/>
<rect x="618" y="1770" width="14" height="4" fill="#66f046"/>
<rect x="642" y="1754" width="14" height="18" fill="#66f046"/>
<rect x="644" y="1756" width="10" height="14" fill="#367a1e"/>
<rect x="666" y="1754" width="14" height="2" fill="#e8321e"/>
<rect x="690" y="1754" width="14" height="2" fill="#66f046"/>
<rect x="720" y="1740" width="2" height="4" fill="#66f046"/>
<rect x="714" y="1744" width="14" height="12" fill="#66f046"/>
<rect x="716" y="1746" width="10" height="8" fill="#367a1e"/>
<rect x="738" y="1736" width="14" height="10" fill="#66f046"/>
<rect x="740" y="1738" width="10" height="6" fill="#367a1e"/>
<rect x="762" y="1736" width="14" height="2" fill="#e8321e"/>
<rect x="786" y="1736" width="14" height="2" fill="#66f046"/>
<rect x="816" y="1740" width="2" height="6" fill="#e8321e"/>
<rect x="810" y="1736" width="14" height="4" fill="#e8321e"/>
<rect x="840" y="1714" width="2" height="2" fill="#66f046"/>
<rect x="834" y="1716" width="14" height="23" fill="#66f046"/>
<rect x="836" y="1718" width="10" height="19" fill="#367a1e"/>
<rect x="864" y="1714" width="2" height="4" fill="#66f046"/>
<rect x="858" y="1716" width="14" height="2" fill="#66f046"/>
<rect x="882" y="1714" width="14" height="4" fill="#66f046"/>
<rect x="912" y="1716" width="2" height="6" fill="#66f046"/>
<rect x="906" y="1712" width="14" height="4" fill="#66f046"/>
<rect x="930" y="1712" width="14" height="2" fill="#e8321e"/>
<rect x="954" y="1706" width="14" height="7" fill="#66f046"/>
<rect x="956" y="1708" width="10" height="3" fill="#367a1e"/>
<rect x="978" y="1682" width="14" height="25" fill="#66f046"/>
<rect x="980" y="1684" width="10" height="21" fill="#367a1e"/>
<rect x="1002" y="1682" width="14" height="2" fill="#e8321e"/>
<rect x="1026" y="1682" width="14" height="2" fill="#e8321e"/>
<rect x="1056" y="1683" width="2" height="4" fill="#66f046"/>
<rect x="1050" y="1678" width="14" height="5" fill="#66f046"/>
<rect x="1052" y="1680" width="10" height="1" fill="#367a1e"/>
<rect x="1080" y="1670" width="2" height="2" fill="#66f046"/>
<rect x="1080" y="1679" width="2" height="5" fill="#66f046"/>
<rect x="1074" y="1672" width="14" height="7" fill="#66f046"/>
<rect x="1076" y="1674" width="10" height="3" fill="#367a1e"/>
<rect x="1098" y="1672" width="14" height="2" fill="#e8321e"/>
<rect x="1122" y="1672" width="14" height="2" fill="#e8321e"/>
<rect x="1152" y="1670" width="2" height="4" fill="#66f046"/>
<rect x="1152" y="1673" width="2" height="3" fill="#66f046"/>
<rect x="1146" y="1672" width="14" height="2" fill="#66f046"/>
<rect x="1176" y="1674" width="2" height="4" fill="#66f046"/>
<rect x="1170" y="1670" width="14" height="4" fill="#66f046"/>
<rect x="1194" y="1670" width="14" height="2" fill="#e8321e"/>
<rect x="1224" y="1668" width="2" height="2" fill="#e8321e"/>
<rect x="1224" y="1674" width="2" height="4" fill="#e8321e"/>
<rect x="1218" y="1670" width="14" height="4" fill="#e8321e"/>
<rect x="1242" y="1662" width="14" height="12" fill="#66f046"/>
<rect x="1244" y="1664" width="10" height="8" fill="#367a1e"/>
<rect x="1266" y="1662" width="14" height="2" fill="#e8321e"/>
<rect x="1296" y="1660" width="2" height="2" fill="#e8321e"/>
<rect x="1290" y="1662" width="14" height="6" fill="#e8321e"/>
<rect x="1292" y="1664" width="10" height="2" fill="#74140f"/>
<rect x="1320" y="1654" width="2" height="4" fill="#66f046"/>
<rect x="1314" y="1658" width="14" height="9" fill="#66f046"/>
<rect x="1316" y="1660" width="10" height="5" fill="#367a1e"/>
<rect x="1338" y="1658" width="14" height="2" fill="#66f046"/>
<rect x="1362" y="1658" width="14" height="2" fill="#e8321e"/>
<rect x="1392" y="1669" width="2" height="5" fill="#e8321e"/>
<rect x="1386" y="1658" width="14" height="11" fill="#e8321e"/>
<rect x="1388" y="1660" width="10" height="7" fill="#74140f"/>
<rect x="1416" y="1666" width="2" height="2" fill="#e8321e"/>
<rect x="1416" y="1682" width="2" height="2" fill="#e8321e"/>
<rect x="1410" y="1668" width="14" height="14" fill="#e8321e"/>
<rect x="1412" y="1670" width="10" height="10" fill="#74140f"/>
<rect x="1440" y="1674" width="2" height="6" fill="#e8321e"/>
<rect x="1440" y="1690" width="2" height="6" fill="#e8321e"/>
<rect x="1434" y="1680" width="14" height="10" fill="#e8321e"/>
<rect x="1436" y="1682" width="10" height="6" fill="#74140f"/>
<rect x="1458" y="1682" width="14" height="7" fill="#66f046"/>
<rect x="1460" y="1684" width="10" height="3" fill="#367a1e"/>
<rect x="1488" y="1598" width="2" height="12" fill="#66f046"/>
<rect x="1482" y="1610" width="14" height="73" fill="#66f046"/>
<rect x="1484" y="1612" width="10" height="69" fill="#367a1e"/>
<rect x="1512" y="1604" width="2" height="6" fill="#e8321e"/>
<rect x="1512" y="1616" width="2" height="28" fill="#e8321e"/>
<rect x="1506" y="1610" width="14" height="6" fill="#e8321e"/>
<rect x="1508" y="1612" width="10" height="2" fill="#74140f"/>
<rect x="1530" y="1614" width="14" height="2" fill="#66f046"/>
<rect x="1554" y="1614" width="14" height="4" fill="#e8321e"/>
<rect x="1584" y="1608" width="2" height="8" fill="#e8321e"/>
<rect x="1578" y="1616" width="14" height="24" fill="#e8321e"/>
<rect x="1580" y="1618" width="10" height="20" fill="#74140f"/>
<rect x="1608" y="1632" width="2" height="6" fill="#e8321e"/>
<rect x="1602" y="1638" width="14" height="31" fill="#e8321e"/>
<rect x="1604" y="1640" width="10" height="27" fill="#74140f"/>
<rect x="1626" y="1668" width="14" height="2" fill="#e8321e"/>
<rect x="1650" y="1668" width="14" height="2" fill="#e8321e"/>
<rect x="1680" y="1666" width="2" height="2" fill="#e8321e"/>
<rect x="1674" y="1668" width="14" height="18" fill="#e8321e"/>
<rect x="1676" y="1670" width="10" height="14" fill="#74140f"/>
<rect x="1704" y="1674" width="2" height="4" fill="#66f046"/>
<rect x="1704" y="1685" width="2" height="11" fill="#66f046"/>
<rect x="1698" y="1678" width="14" height="7" fill="#66f046"/>
<rect x="1700" y="1680" width="10" height="3" fill="#367a1e"/>
<rect x="1722" y="1678" width="14" height="2" fill="#e8321e"/>
<rect x="1746" y="1678" width="14" height="2" fill="#66f046"/>
<rect x="1776" y="1716" width="2" height="2" fill="#e8321e"/>
<rect x="1770" y="1678" width="14" height="38" fill="#e8321e"/>
<rect x="1772" y="1680" width="10" height="34" fill="#74140f"/>
<rect x="1794" y="1714" width="14" height="31" fill="#e8321e"/>
<rect x="1796" y="1716" width="10" height="27" fill="#74140f"/>
<rect x="1818" y="1744" width="14" height="2" fill="#66f046"/>
<rect x="1842" y="1744" width="14" height="2" fill="#e8321e"/>
<rect x="1872" y="1740" width="2" height="4" fill="#e8321e"/>
<rect x="1872" y="1762" width="2" height="2" fill="#e8321e"/>
<rect x="1866" y="1744" width="14" height="18" fill="#e8321e"/>
<rect x="1868" y="1746" width="10" height="14" fill="#74140f"/>
<rect x="1890" y="1734" width="14" height="28" fill="#66f046"/>
<rect x="1892" y="1736" width="10" height="24" fill="#367a1e"/>
</g>
<rect x="1926" y="115" width="2" height="1667" fill="#ffffff"/>
<rect x="8" y="1780" width="1920" height="2" fill="#ffffff"/>
<g clip-path="url(#cpAxis)">
<rect x="1928" y="1111" width="5" height="2" fill="#ffffff"/>
<text x="1936.3" y="1123.6" font-size="32" font-weight="bold" fill="#000" stroke="#d8d8d8" stroke-width="0.4" transform="translate(0 1123.6) scale(1 1.095) translate(0 -1123.6)">300.00</text>
<rect x="1928" y="1049" width="5" height="2" fill="#ffffff"/>
<text x="1936.3" y="1061.7" font-size="32" font-weight="bold" fill="#000" stroke="#d8d8d8" stroke-width="0.4" transform="translate(0 1061.7) scale(1 1.095) translate(0 -1061.7)">310.00</text>
<rect x="1928" y="987" width="5" height="2" fill="#ffffff"/>
<text x="1936.3" y="999.7" font-size="32" font-weight="bold" fill="#000" stroke="#d8d8d8" stroke-width="0.4" transform="translate(0 999.7) scale(1 1.095) translate(0 -999.7)">320.00</text>
<rect x="1928" y="925" width="5" height="2" fill="#ffffff"/>
<text x="1936.3" y="937.7" font-size="32" font-weight="bold" fill="#000" stroke="#d8d8d8" stroke-width="0.4" transform="translate(0 937.7) scale(1 1.095) translate(0 -937.7)">330.00</text>
<rect x="1928" y="863" width="5" height="2" fill="#ffffff"/>
<text x="1936.3" y="875.8" font-size="32" font-weight="bold" fill="#000" stroke="#d8d8d8" stroke-width="0.4" transform="translate(0 875.8) scale(1 1.095) translate(0 -875.8)">340.00</text>
<rect x="1928" y="802" width="5" height="2" fill="#ffffff"/>
<text x="1936.3" y="813.8" font-size="32" font-weight="bold" fill="#000" stroke="#d8d8d8" stroke-width="0.4" transform="translate(0 813.8) scale(1 1.095) translate(0 -813.8)">350.00</text>
<rect x="1928" y="740" width="5" height="2" fill="#ffffff"/>
<text x="1936.3" y="751.8" font-size="32" font-weight="bold" fill="#000" stroke="#d8d8d8" stroke-width="0.4" transform="translate(0 751.8) scale(1 1.095) translate(0 -751.8)">360.00</text>
<rect x="1928" y="678" width="5" height="2" fill="#ffffff"/>
<text x="1936.3" y="689.9" font-size="32" font-weight="bold" fill="#000" stroke="#d8d8d8" stroke-width="0.4" transform="translate(0 689.9) scale(1 1.095) translate(0 -689.9)">370.00</text>
<rect x="1928" y="616" width="5" height="2" fill="#ffffff"/>
<text x="1936.3" y="627.9" font-size="32" font-weight="bold" fill="#000" stroke="#d8d8d8" stroke-width="0.4" transform="translate(0 627.9) scale(1 1.095) translate(0 -627.9)">380.00</text>
<rect x="1928" y="554" width="5" height="2" fill="#ffffff"/>
<text x="1936.3" y="565.9" font-size="32" font-weight="bold" fill="#000" stroke="#d8d8d8" stroke-width="0.4" transform="translate(0 565.9) scale(1 1.095) translate(0 -565.9)">390.00</text>
<rect x="1928" y="492" width="5" height="2" fill="#ffffff"/>
<text x="1936.3" y="504.0" font-size="32" font-weight="bold" fill="#000" stroke="#d8d8d8" stroke-width="0.4" transform="translate(0 504.0) scale(1 1.095) translate(0 -504.0)">400.00</text>
<rect x="1928" y="430" width="5" height="2" fill="#ffffff"/>
<text x="1936.3" y="442.0" font-size="32" font-weight="bold" fill="#000" stroke="#d8d8d8" stroke-width="0.4" transform="translate(0 442.0) scale(1 1.095) translate(0 -442.0)">410.00</text>
<rect x="1928" y="368" width="5" height="2" fill="#ffffff"/>
<text x="1936.3" y="380.0" font-size="32" font-weight="bold" fill="#000" stroke="#d8d8d8" stroke-width="0.4" transform="translate(0 380.0) scale(1 1.095) translate(0 -380.0)">420.00</text>
<rect x="1928" y="306" width="5" height="2" fill="#ffffff"/>
<text x="1936.3" y="318.0" font-size="32" font-weight="bold" fill="#000" stroke="#d8d8d8" stroke-width="0.4" transform="translate(0 318.0) scale(1 1.095) translate(0 -318.0)">430.00</text>
<rect x="1928" y="244" width="5" height="2" fill="#ffffff"/>
<text x="1936.3" y="256.1" font-size="32" font-weight="bold" fill="#000" stroke="#d8d8d8" stroke-width="0.4" transform="translate(0 256.1) scale(1 1.095) translate(0 -256.1)">440.00</text>
<rect x="1928" y="182" width="5" height="2" fill="#ffffff"/>
<text x="1936.3" y="194.1" font-size="32" font-weight="bold" fill="#000" stroke="#d8d8d8" stroke-width="0.4" transform="translate(0 194.1) scale(1 1.095) translate(0 -194.1)">450.00</text>
</g>
<rect x="1936" y="710" width="98" height="38" fill="#ffffff"/>
<text x="1936.3" y="740.2" font-size="32" font-weight="bold" fill="#000" stroke="#ffffff" stroke-width="0.4" transform="translate(0 740.2) scale(1 1.095) translate(0 -740.2)">361.64</text>
<rect x="1936" y="920" width="98" height="37" fill="#ffffff"/>
<text x="1936.3" y="950.1" font-size="32" font-weight="bold" fill="#000" stroke="#ffffff" stroke-width="0.4" transform="translate(0 950.1) scale(1 1.095) translate(0 -950.1)">328.09</text>
<rect x="1928" y="1176" width="5" height="2" fill="#ffffff"/>
<text x="1936.3" y="1188.0" font-size="32" font-weight="bold" fill="#000" stroke="#d8d8d8" stroke-width="0.4" transform="translate(0 1188.0) scale(1 1.095) translate(0 -1188.0)">8000.0</text>
<rect x="1928" y="1294" width="5" height="2" fill="#ffffff"/>
<text x="1936.3" y="1305.8" font-size="32" font-weight="bold" fill="#000" stroke="#d8d8d8" stroke-width="0.4" transform="translate(0 1305.8) scale(1 1.095) translate(0 -1305.8)">4000.0</text>
<rect x="1928" y="1412" width="5" height="2" fill="#ffffff"/>
<text x="1936.3" y="1424.8" font-size="32" font-weight="bold" fill="#000" stroke="#d8d8d8" stroke-width="0.4" transform="translate(0 1424.8) scale(1 1.095) translate(0 -1424.8)">0.0</text>
<rect x="1928" y="1574" width="5" height="2" fill="#ffffff"/>
<text x="1936.3" y="1585.8" font-size="32" font-weight="bold" fill="#000" stroke="#d8d8d8" stroke-width="0.4" transform="translate(0 1585.8) scale(1 1.095) translate(0 -1585.8)">8000</text>
<rect x="1928" y="1687" width="5" height="2" fill="#ffffff"/>
<text x="1936.3" y="1699.7" font-size="32" font-weight="bold" fill="#000" stroke="#d8d8d8" stroke-width="0.4" transform="translate(0 1699.7) scale(1 1.095) translate(0 -1699.7)">6000</text>
<text x="1847.5" y="206.3" font-size="30" fill="#000" font-family="'Liberation Serif', serif">0</text>
<g clip-path="url(#cpHdr)">
<text x="15.9" y="143.9" font-size="32" font-weight="bold" fill="#000" stroke="#d8d8d8" stroke-width="0.4" transform="translate(0 143.9) scale(1 1.095) translate(0 -143.9)">DUOL</text>
<text x="124" y="143.9" font-size="32" font-weight="bold" fill="#000" stroke="#d8d8d8" stroke-width="0.4" transform="translate(0 143.9) scale(1 1.095) translate(0 -143.9)">240</text>
<text x="185.3" y="143.9" font-size="32" font-weight="bold" fill="#000" stroke="#d8d8d8" stroke-width="0.4" transform="translate(0 143.9) scale(1 1.095) translate(0 -143.9)">Min</text>
<text x="255.5" y="143.9" font-size="32" font-weight="bold" fill="#000" stroke="#d8d8d8" stroke-width="0.4" transform="translate(0 143.9) scale(1 1.095) translate(0 -143.9)">#1</text>
<rect x="300" y="114" width="140" height="38" fill="#000"/>
<text x="300.6" y="143.9" font-size="32" font-weight="bold" fill="#d8d8d8" stroke="#000" stroke-width="0.4" transform="translate(0 143.9) scale(1 1.095) translate(0 -143.9)">C: 328.09</text>
<text x="447.9" y="143.9" font-size="32" font-weight="bold" fill="#000" stroke="#d8d8d8" stroke-width="0.4" transform="translate(0 143.9) scale(1 1.095) translate(0 -143.9)">T: 4027</text>
<rect x="566" y="114" width="162" height="38" fill="#58be3c"/>
<text x="566" y="143.9" font-size="32" font-weight="bold" fill="#d8d8d8" stroke="#58be3c" stroke-width="0.4" transform="translate(0 143.9) scale(1 1.095) translate(0 -143.9)">Chg: 14.70</text>
<rect x="736" y="114" width="168" height="38" fill="#000"/>
<text x="735.7" y="143.9" font-size="32" font-weight="bold" fill="#d8d8d8" stroke="#000" stroke-width="0.4" transform="translate(0 143.9) scale(1 1.095) translate(0 -143.9)">DChg: 0.00</text>
<text x="911.8" y="143.9" font-size="32" font-weight="bold" fill="#000" stroke="#d8d8d8" stroke-width="0.4" textLength="1007.6" lengthAdjust="spacingAndGlyphs" transform="translate(0 143.9) scale(1 1.095) translate(0 -143.9)">2025-08-13 12:00:00 H: 328.30 L: 311.20 O: 313.37 V: 545163 B: 0.00</text>
<text x="14.9" y="1148.0" font-size="32" font-weight="bold" fill="#000" stroke="#d8d8d8" stroke-width="0.4" textLength="246.5" lengthAdjust="spacingAndGlyphs" transform="translate(0 1148.0) scale(1 1.095) translate(0 -1148.0)">Relative Volume</text>
<text x="277.2" y="1148.0" font-size="32" font-weight="bold" fill="#3d85c6" stroke="#d8d8d8" stroke-width="0.4" transform="translate(0 1148.0) scale(1 1.095) translate(0 -1148.0)">Relative Volume: 119.4</text>
<text x="637.7" y="1148.0" font-size="32" font-weight="bold" fill="#8a8a8a" stroke="#d8d8d8" stroke-width="0.4" textLength="179.5" lengthAdjust="spacingAndGlyphs" transform="translate(0 1148.0) scale(1 1.095) translate(0 -1148.0)">100%: 100.0</text>
<text x="842" y="1148.0" font-size="32" font-weight="bold" fill="#000" stroke="#d8d8d8" stroke-width="0.4" transform="translate(0 1148.0) scale(1 1.095) translate(0 -1148.0)">(20, All Days, Yes, Average Volume, Volume, 1, 50, 120, #008000, 80, #00</text>
<text x="16.7" y="1489.8" font-size="32" font-weight="bold" fill="#000" stroke="#d8d8d8" stroke-width="0.4" textLength="469.0" lengthAdjust="spacingAndGlyphs" transform="translate(0 1489.8) scale(1 1.095) translate(0 -1489.8)">Cumulative Delta Bars - Trades</text>
<text x="502" y="1489.8" font-size="32" font-weight="bold" fill="#66f046" stroke="#d8d8d8" stroke-width="0.4" textLength="170.9" lengthAdjust="spacingAndGlyphs" transform="translate(0 1489.8) scale(1 1.095) translate(0 -1489.8)">Open: 4765</text>
<text x="688.6" y="1489.8" font-size="32" font-weight="bold" fill="#3a8a22" stroke="#d8d8d8" stroke-width="0.4" transform="translate(0 1489.8) scale(1 1.095) translate(0 -1489.8)">High: 5209</text>
<text x="867.2" y="1489.8" font-size="32" font-weight="bold" fill="#e8321e" stroke="#d8d8d8" stroke-width="0.4" transform="translate(0 1489.8) scale(1 1.095) translate(0 -1489.8)">Low: 4748</text>
<text x="1038.3" y="1489.8" font-size="32" font-weight="bold" fill="#7a1410" stroke="#d8d8d8" stroke-width="0.4" transform="translate(0 1489.8) scale(1 1.095) translate(0 -1489.8)">Close: 5206</text>
<text x="1240.5" y="1489.8" font-size="32" font-weight="bold" fill="#000" stroke="#d8d8d8" stroke-width="0.4" transform="translate(0 1489.8) scale(1 1.095) translate(0 -1489.8)">(No, No)</text>
</g>
<rect x="624" y="115" width="2" height="11" fill="#74ee50"/>
<rect x="624" y="148" width="2" height="4" fill="#74ee50"/>
<rect x="24" y="1782" width="2" height="6" fill="#ffffff"/>
<rect x="240" y="1782" width="2" height="6" fill="#ffffff"/>
<rect x="336" y="1782" width="2" height="6" fill="#ffffff"/>
<rect x="432" y="1782" width="2" height="6" fill="#ffffff"/>
<rect x="528" y="1782" width="2" height="6" fill="#ffffff"/>
<rect x="624" y="1782" width="2" height="6" fill="#ffffff"/>
<rect x="720" y="1782" width="2" height="6" fill="#ffffff"/>
<rect x="816" y="1782" width="2" height="6" fill="#ffffff"/>
<rect x="912" y="1782" width="2" height="6" fill="#ffffff"/>
<rect x="1008" y="1782" width="2" height="6" fill="#ffffff"/>
<rect x="1104" y="1782" width="2" height="6" fill="#ffffff"/>
<rect x="1200" y="1782" width="2" height="6" fill="#ffffff"/>
<rect x="1272" y="1782" width="2" height="6" fill="#ffffff"/>
<rect x="1344" y="1782" width="2" height="6" fill="#ffffff"/>
<rect x="1416" y="1782" width="2" height="6" fill="#ffffff"/>
<rect x="1488" y="1782" width="2" height="6" fill="#ffffff"/>
<rect x="1560" y="1782" width="2" height="6" fill="#ffffff"/>
<rect x="1656" y="1782" width="2" height="6" fill="#ffffff"/>
<rect x="1752" y="1782" width="2" height="6" fill="#ffffff"/>
<rect x="1848" y="1782" width="2" height="6" fill="#ffffff"/>
<rect x="24" y="1788" width="146" height="38" fill="#000"/>
<text x="97.0" y="1817.8" font-size="32" font-weight="bold" fill="#d8d8d8" stroke="#000" stroke-width="0.4" text-anchor="middle" transform="translate(0 1817.8) scale(1 1.095) translate(0 -1817.8)">2025-7-15</text>
<rect x="208" y="1788" width="64" height="38" fill="#000"/>
<text x="240.1" y="1817.8" font-size="32" font-weight="bold" fill="#d8d8d8" stroke="#000" stroke-width="0.4" text-anchor="middle" transform="translate(0 1817.8) scale(1 1.095) translate(0 -1817.8)">7-17</text>
<rect x="304" y="1788" width="64" height="38" fill="#000"/>
<text x="336.0" y="1817.8" font-size="32" font-weight="bold" fill="#d8d8d8" stroke="#000" stroke-width="0.4" text-anchor="middle" transform="translate(0 1817.8) scale(1 1.095) translate(0 -1817.8)">7-21</text>
<rect x="400" y="1788" width="20" height="38" fill="#000"/>
<text x="401.5" y="1817.8" font-size="32" font-weight="bold" fill="#d8d8d8" stroke="#000" stroke-width="0.4" transform="translate(0 1817.8) scale(1 1.095) translate(0 -1817.8)">7</text>
<rect x="828" y="1788" width="20" height="38" fill="#000"/>
<text x="829.5" y="1817.8" font-size="32" font-weight="bold" fill="#d8d8d8" stroke="#000" stroke-width="0.4" transform="translate(0 1817.8) scale(1 1.095) translate(0 -1817.8)">8</text>
<rect x="880" y="1788" width="64" height="38" fill="#000"/>
<text x="912.1" y="1817.8" font-size="32" font-weight="bold" fill="#d8d8d8" stroke="#000" stroke-width="0.4" text-anchor="middle" transform="translate(0 1817.8) scale(1 1.095) translate(0 -1817.8)">7-29</text>
<rect x="976" y="1788" width="64" height="38" fill="#000"/>
<text x="1008.0" y="1817.8" font-size="32" font-weight="bold" fill="#d8d8d8" stroke="#000" stroke-width="0.4" text-anchor="middle" transform="translate(0 1817.8) scale(1 1.095) translate(0 -1817.8)">7-30</text>
<rect x="1072" y="1788" width="64" height="38" fill="#000"/>
<text x="1103.8" y="1817.8" font-size="32" font-weight="bold" fill="#d8d8d8" stroke="#000" stroke-width="0.4" text-anchor="middle" transform="translate(0 1817.8) scale(1 1.095) translate(0 -1817.8)">7-31</text>
<rect x="1178" y="1788" width="46" height="38" fill="#000"/>
<text x="1200.9" y="1817.8" font-size="32" font-weight="bold" fill="#d8d8d8" stroke="#000" stroke-width="0.4" text-anchor="middle" transform="translate(0 1817.8) scale(1 1.095) translate(0 -1817.8)">8-1</text>
<rect x="1250" y="1788" width="46" height="38" fill="#000"/>
<text x="1272.8" y="1817.8" font-size="32" font-weight="bold" fill="#d8d8d8" stroke="#000" stroke-width="0.4" text-anchor="middle" transform="translate(0 1817.8) scale(1 1.095) translate(0 -1817.8)">8-4</text>
<rect x="1322" y="1788" width="46" height="38" fill="#000"/>
<text x="1344.8" y="1817.8" font-size="32" font-weight="bold" fill="#d8d8d8" stroke="#000" stroke-width="0.4" text-anchor="middle" transform="translate(0 1817.8) scale(1 1.095) translate(0 -1817.8)">8-5</text>
<rect x="1394" y="1788" width="46" height="38" fill="#000"/>
<text x="1416.8" y="1817.8" font-size="32" font-weight="bold" fill="#d8d8d8" stroke="#000" stroke-width="0.4" text-anchor="middle" transform="translate(0 1817.8) scale(1 1.095) translate(0 -1817.8)">8-6</text>
<rect x="1466" y="1788" width="46" height="38" fill="#000"/>
<text x="1488.9" y="1817.8" font-size="32" font-weight="bold" fill="#d8d8d8" stroke="#000" stroke-width="0.4" text-anchor="middle" transform="translate(0 1817.8) scale(1 1.095) translate(0 -1817.8)">8-7</text>
<rect x="1538" y="1788" width="46" height="38" fill="#000"/>
<text x="1560.8" y="1817.8" font-size="32" font-weight="bold" fill="#d8d8d8" stroke="#000" stroke-width="0.4" text-anchor="middle" transform="translate(0 1817.8) scale(1 1.095) translate(0 -1817.8)">8-8</text>
<rect x="1624" y="1788" width="64" height="38" fill="#000"/>
<text x="1655.9" y="1817.8" font-size="32" font-weight="bold" fill="#d8d8d8" stroke="#000" stroke-width="0.4" text-anchor="middle" transform="translate(0 1817.8) scale(1 1.095) translate(0 -1817.8)">8-11</text>
<rect x="1720" y="1788" width="64" height="38" fill="#000"/>
<text x="1752.0" y="1817.8" font-size="32" font-weight="bold" fill="#d8d8d8" stroke="#000" stroke-width="0.4" text-anchor="middle" transform="translate(0 1817.8) scale(1 1.095) translate(0 -1817.8)">8-12</text>
<rect x="1816" y="1788" width="64" height="38" fill="#000"/>
<text x="1847.8" y="1817.8" font-size="32" font-weight="bold" fill="#d8d8d8" stroke="#000" stroke-width="0.4" text-anchor="middle" transform="translate(0 1817.8) scale(1 1.095) translate(0 -1817.8)">8-13</text>
<rect x="420" y="1789" width="406" height="36" fill="#ffffff"/>
<text x="436" y="1817.8" font-size="32" font-weight="bold" fill="#000" stroke="#ffffff" stroke-width="0.4" transform="translate(0 1817.8) scale(1 1.095) translate(0 -1817.8)">Thu 2025-07-24&#160; 08:00:00</text>
<rect x="1942" y="1788" width="110" height="38" fill="#e8321e"/>
<text x="1950" y="1817.8" font-size="32" font-weight="bold" fill="#000" stroke="#e8321e" stroke-width="0.4" textLength="93" lengthAdjust="spacingAndGlyphs" transform="translate(0 1817.8) scale(1 1.095) translate(0 -1817.8)">11 L E</text>
</svg></body></html>
